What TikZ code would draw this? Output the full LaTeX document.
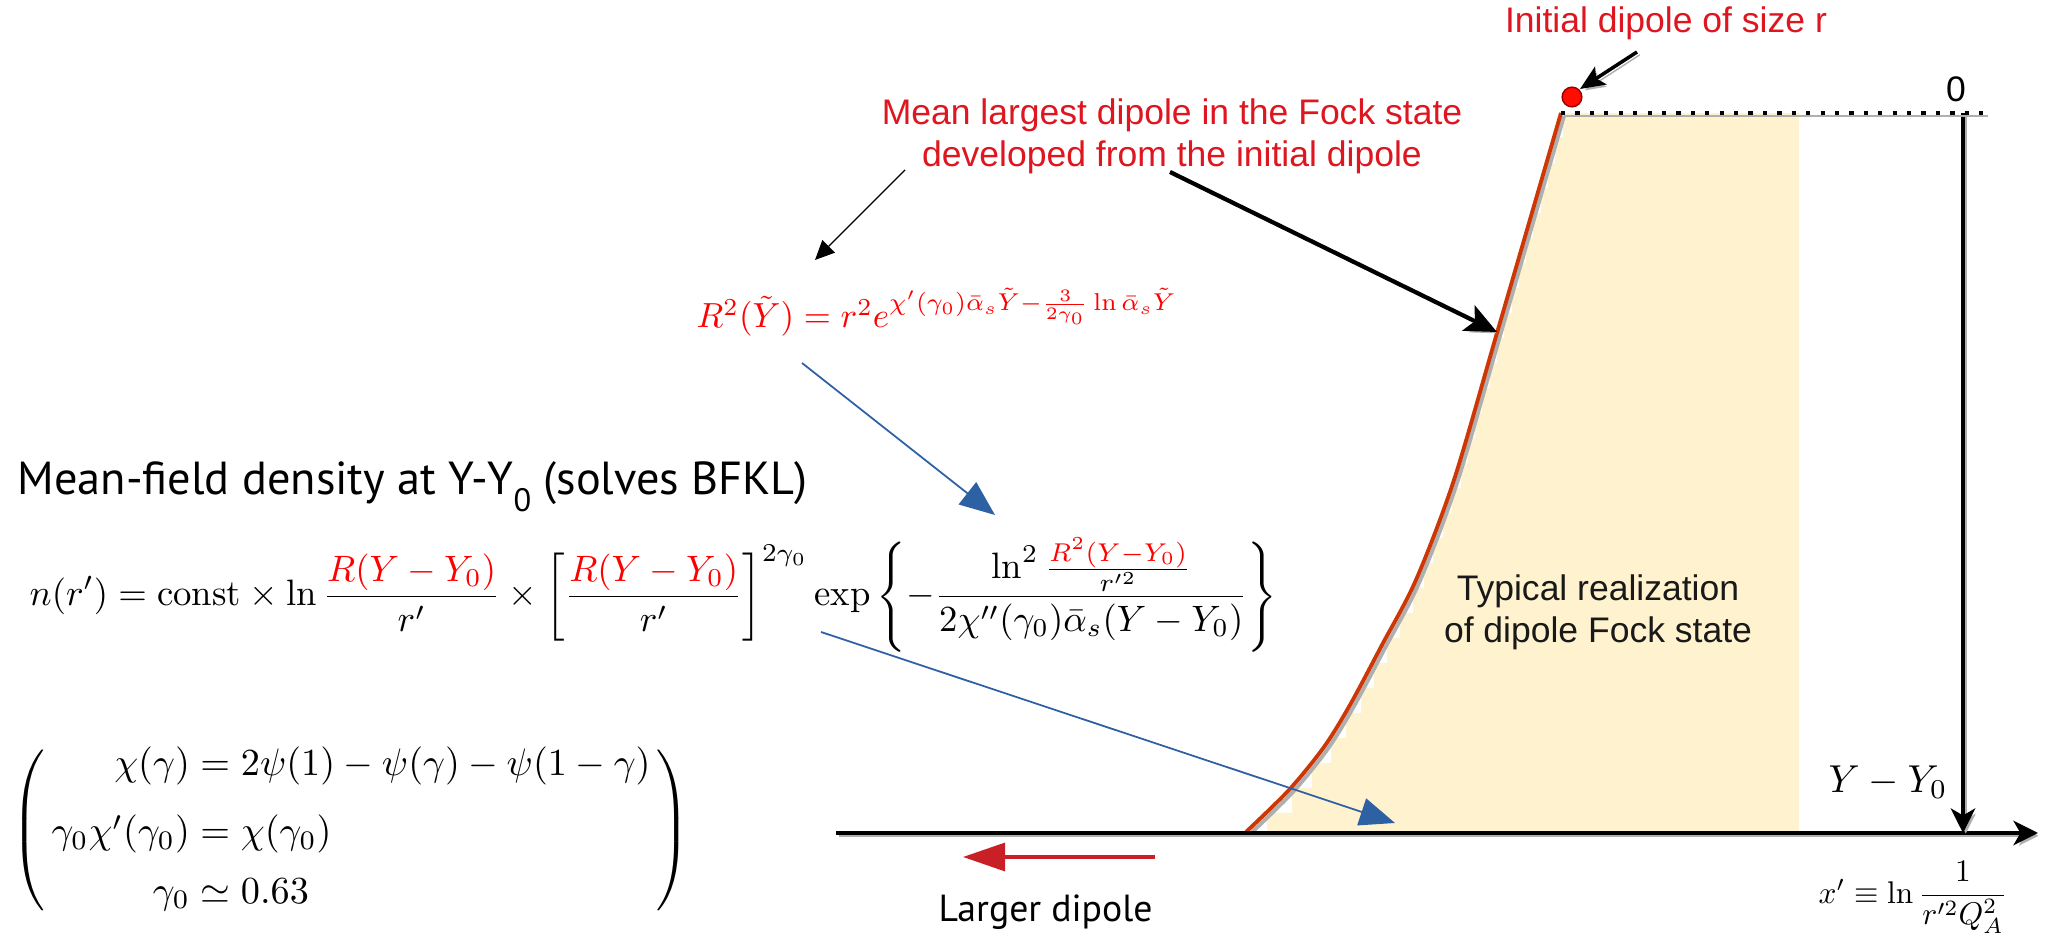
\documentclass[tikz,border=0pt]{standalone}
\usepackage{amsmath,amssymb}
\usepackage{fontspec}
\newfontfamily\helv{Liberation Sans}
\newfontfamily\ptsans{PT Sans}
\usetikzlibrary{arrows.meta}
\definecolor{fillY}{RGB}{255,242,206}
\definecolor{curveC}{RGB}{204,55,5}
\definecolor{lblred}{RGB}{222,22,32}
\definecolor{arrblue}{RGB}{46,96,164}
\definecolor{arrred}{RGB}{200,32,38}
\definecolor{shadowgray}{RGB}{175,175,175}
\begin{document}
\begin{tikzpicture}[x=0.01cm,y=-0.01cm,
  helvlbl/.style={font=\helv\fontsize{10.1}{12.1}\selectfont, inner sep=0pt},
  shd/.style={preaction={draw=shadowgray, transform canvas={shift={(0.8pt,-0.8pt)}}}},
  axisline/.style={line width=1pt, black, -{Stealth[length=7pt,width=7pt,inset=2pt]}},
  bigarrow/.style={line width=1.2pt, black, -{Stealth[length=9pt,width=8pt,inset=2pt]}},
  thinarrow/.style={line width=0.4pt, black, -{Triangle[length=5.5pt,width=5pt]}},
  bluearrow/.style={line width=0.5pt, arrblue, -{Triangle[length=10pt,width=8pt]}},
  redarrow/.style={line width=0.9pt, arrred, -{Triangle[length=12pt,width=8pt]}},
  mathlbl/.style={inner sep=0pt}]
\useasboundingbox (0,0) rectangle (2047,937);
\fill[white] (0,0) rectangle (2047,937);

% coordinates
\coordinate (top) at (1561,113);
\coordinate (dot) at (1572,97);
\coordinate (fillTR) at (1799,113);
\coordinate (fillBR) at (1799,833);
\coordinate (axL) at (836,833);
\coordinate (axR) at (2038,833);
\coordinate (vT) at (1963,113);
\coordinate (vB) at (1963,833);
\coordinate (dotR) at (1985,113);

% yellow region: stepwise realization
\fill[fillY] (1563,113) |- (1555,138) |- (1548,163) |- (1541,188) |- (1533,213) |- (1526,238)
  |- (1519,263) |- (1512,288) |- (1504,313) |- (1497,338) |- (1490,363) |- (1482,388)
  |- (1475,413) |- (1468,438) |- (1461,463) |- (1452,488) |- (1443,513) |- (1433,538)
  |- (1424,563) |- (1413,588) |- (1400,613) |- (1387,638) |- (1374,663) |- (1361,688)
  |- (1346,713) |- (1331,738) |- (1312,763) |- (1292,788) |- (1267,813) -- (1267,833)
  -- (fillBR) -- (fillTR) -- cycle;

% curve with its grey shadow
\draw[shadowgray, line width=1.1pt] plot[smooth] coordinates {(1564,116) (1500,336) (1457,483) (1419,583) (1385,648) (1353,708) (1327,750) (1292,793) (1249,835)};
\draw[curveC, line width=1.1pt] plot[smooth] coordinates {(1561,113) (1497,333) (1454,480) (1416,580) (1382,645) (1350,705) (1324,747) (1289,790) (1246,832)};

% axes
\draw[axisline, shd] (axL) -- (axR);
\draw[axisline, shd] (vT) -- (vB);
\draw[line width=1.2pt, dash pattern=on 1.2pt off 2.9pt, shd] (top) -- (dotR);

% red dot
\filldraw[fill=red!90!orange, draw=red!60!black, line width=0.4pt] (dot) circle[radius=2.8pt];

% texts
\node[helvlbl, text=lblred, anchor=base] (init) at (1666,33) {Initial dipole of size r};
\node[helvlbl, text=lblred, anchor=north, align=center] (mean) at (1172,98) {Mean largest dipole in the Fock state\\developed from the initial dipole};
\node[helvlbl, text=black!90, anchor=north, align=center] (typ) at (1598,574) {Typical realization\\of dipole Fock state};
\node[helvlbl, anchor=base] (zero) at (1956,102) {0};

\node[mathlbl, anchor=base west] (R2) at (696,328) {\resizebox{136.6pt}{!}{\color{red}$R^2(\tilde Y) = r^2 e^{\chi'(\gamma_0)\bar\alpha_s\tilde Y - \frac{3}{2\gamma_0}\ln\bar\alpha_s\tilde Y}$}};

\node[mathlbl, anchor=base west] (title) at (17,495) {\resizebox{224.7pt}{!}{\ptsans Mean-field density at Y-Y\raisebox{-3.5pt}{\fontsize{7}{8}\selectfont 0} (solves BFKL)}};

\node[mathlbl, anchor=west] (nform) at (29,595) {\resizebox{354.8pt}{!}{$\displaystyle n(r') = \mathrm{const}\times\ln\frac{\textcolor{red}{R(Y-Y_0)}}{r'}\times\left[\frac{\textcolor{red}{R(Y-Y_0)}}{r'}\right]^{2\gamma_0}\exp\left\{-\frac{\ln^2\frac{\textcolor{red}{R^2(Y-Y_0)}}{r'^2}}{2\chi''(\gamma_0)\bar\alpha_s(Y-Y_0)}\right\}$}};

\node[mathlbl, anchor=west] (matrix) at (11,830) {\resizebox{193pt}{!}{$\displaystyle\left(\,\begin{array}{@{}r@{}l@{}}\chi(\gamma)&{}=2\psi(1)-\psi(\gamma)-\psi(1-\gamma)\\[6pt] \gamma_0\chi'(\gamma_0)&{}=\chi(\gamma_0)\\[3.5pt] \gamma_0&{}\simeq0.63\end{array}\,\right)$}};

\node[mathlbl, anchor=base west] (larger) at (938,922) {\resizebox{60.8pt}{!}{\ptsans Larger dipole}};
\node[mathlbl, anchor=base west] (yy) at (1828,793) {\resizebox{33.8pt}{!}{$Y-Y_0$}};
\node[mathlbl, anchor=base west] (xl) at (1818,903) {\resizebox{53.7pt}{!}{$x'\equiv\ln\dfrac{1}{r'^2Q_A^2}$}};

% arrows
\coordinate (sA) at (1637,52);
\coordinate (tA) at (1580,89);
\draw[line width=1pt, black, -{Stealth[length=7pt,width=6pt,inset=1.5pt]}, shd] (sA) -- (tA);

\coordinate (sB) at (1170,172);
\coordinate (tB) at (1497,332);
\draw[bigarrow, shd] (sB) -- (tB);

\coordinate (sC) at (905,170);
\coordinate (tC) at (815,260);
\draw[thinarrow] (sC) -- (tC);

\coordinate (sD) at (802,363);
\coordinate (tD) at (995,515);
\draw[bluearrow] (sD) -- (tD);

\coordinate (sE) at (821,632);
\coordinate (tE) at (1395,823);
\draw[bluearrow] (sE) -- (tE);

\coordinate (sF) at (1155,857);
\coordinate (tF) at (963,857);
\draw[redarrow] (sF) -- (tF);
\end{tikzpicture}
\end{document}
